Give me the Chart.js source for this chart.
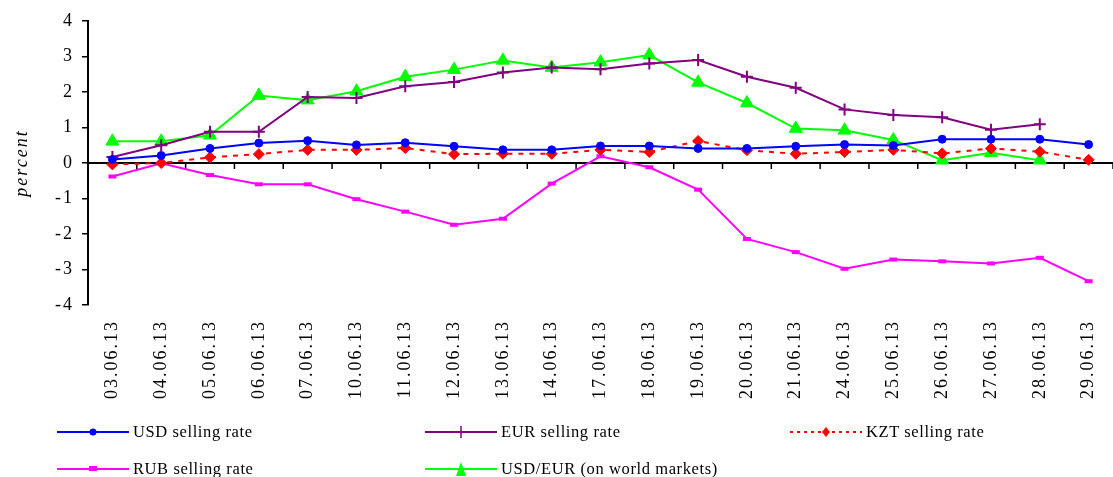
<!DOCTYPE html>
<html>
<head>
<meta charset="utf-8">
<script src="https://cdn.jsdelivr.net/npm/chart.js@4.4.0/dist/chart.umd.min.js"></script>
<style>
    body { margin: 0; background: #fff; }
    #wrap { position: relative; width: 1113px; height: 477px; }
    #chart { position: absolute; left: 0; top: 0; }
    .item {
        position: absolute; display: flex; align-items: center; height: 20px;
        font-family: 'Liberation Serif', serif; font-size: 16.5px; letter-spacing: 0.6px; color: #000;
        white-space: nowrap;
    }
    .item svg { margin-right: 4px; }
</style>
</head>
<body>
<div id="wrap">
    <canvas id="chart" width="1113" height="477" style="width:1113px;height:477px"></canvas>
    <div id="legend"></div>
</div>
<script>
// Chart data
const dates = ['03.06.13', '04.06.13', '05.06.13', '06.06.13', '07.06.13', '10.06.13', '11.06.13',
    '12.06.13', '13.06.13', '14.06.13', '17.06.13', '18.06.13', '19.06.13', '20.06.13', '21.06.13',
    '24.06.13', '25.06.13', '26.06.13', '27.06.13', '28.06.13', '29.06.13'];
const usdRate = [0.10, 0.21, 0.41, 0.56, 0.63, 0.51, 0.57, 0.47, 0.37, 0.37, 0.48,
    0.48, 0.41, 0.41, 0.47, 0.52, 0.49, 0.67, 0.67, 0.67, 0.52];
const eurRate = [0.17, 0.50, 0.88, 0.88, 1.86, 1.83, 2.16, 2.28, 2.55, 2.69, 2.64,
    2.80, 2.90, 2.43, 2.12, 1.51, 1.35, 1.29, 0.94, 1.09, null];
const kztRate = [-0.04, 0.00, 0.16, 0.25, 0.37, 0.37, 0.42, 0.25, 0.26, 0.26, 0.37,
    0.31, 0.62, 0.36, 0.26, 0.31, 0.37, 0.27, 0.41, 0.32, 0.09];
const rubRate = [-0.38, -0.01, -0.34, -0.60, -0.60, -1.02, -1.37, -1.74, -1.57, -0.58, 0.19,
    -0.12, -0.75, -2.14, -2.51, -2.98, -2.72, -2.77, -2.83, -2.67, -3.33];
const usdEurWorld = [0.61, 0.61, 0.78, 1.90, 1.77, 2.02, 2.43, 2.63, 2.89, 2.69, 2.84,
    3.04, 2.27, 1.69, 0.97, 0.92, 0.65, 0.08, 0.29, 0.08, null];
const yTicks = [-4, -3, -2, -1, 0, 1, 2, 3, 4];

const FONT = 'Liberation Serif';

function series(label, data, color, pointStyle, radius, extra) {
    return Object.assign({
        label: label,
        data: data,
        borderColor: color,
        backgroundColor: color,
        pointBackgroundColor: color,
        pointBorderColor: color,
        borderWidth: 2,
        pointStyle: pointStyle,
        pointRadius: radius,
        pointBorderWidth: 1,
        tension: 0
    }, extra || {});
}

const datasets = [
    series('USD selling rate', usdRate, '#0000FF', 'circle', 4),
    series('EUR selling rate', eurRate, '#800080', 'cross', 6, { pointBorderWidth: 2 }),
    series('KZT selling rate', kztRate, '#FF0000', 'rectRot', 5.5, { borderDash: [5, 6] }),
    series('RUB selling rate', rubRate, '#FF00FF', 'line', 4, { pointBorderWidth: 4 }),
    series('USD/EUR (on world markets)', usdEurWorld, '#00FF00', 'triangle', 7.5)
];

// zero line with small ticks between the dates, plus the spaced-out lettering
const zeroAxis = {
    id: 'zeroAxis',
    beforeDraw(chart) {
        chart.ctx.letterSpacing = '2px';
    },
    beforeDatasetsDraw(chart) {
        const { ctx, chartArea, scales: { x, y } } = chart;
        const y0 = y.getPixelForValue(0);
        const half = (x.getPixelForValue(1) - x.getPixelForValue(0)) / 2;
        ctx.save();
        ctx.strokeStyle = '#000';
        ctx.lineWidth = 2;
        ctx.beginPath();
        ctx.moveTo(chartArea.left, y0);
        ctx.lineTo(chartArea.right, y0);
        ctx.stroke();
        ctx.lineWidth = 1.5;
        ctx.beginPath();
        for (let i = 1; i <= dates.length; i++) {
            const px = x.getPixelForValue(i) - half;
            ctx.moveTo(px, y0);
            ctx.lineTo(px, y0 + 6);
        }
        ctx.stroke();
        ctx.restore();
    }
};

new Chart(document.getElementById('chart'), {
    type: 'line',
    data: { labels: dates, datasets: datasets },
    options: {
        responsive: false,
        animation: false,
        layout: { autoPadding: false, padding: { top: 21, left: 0, right: 0, bottom: 0 } },
        plugins: {
            legend: { display: false },
            tooltip: { enabled: false }
        },
        scales: {
            x: {
                offset: true,
                grid: { display: false, drawTicks: false },
                border: { display: false },
                ticks: {
                    autoSkip: false,
                    minRotation: 90,
                    maxRotation: 90,
                    padding: 15,
                    color: '#000',
                    font: { family: FONT, size: 18 }
                },
                afterFit(s) {
                    s.height = 172;
                    s.paddingLeft = 0;
                    s.paddingRight = 0;
                }
            },
            y: {
                min: -4,
                max: 4,
                afterBuildTicks(s) { s.ticks = yTicks.map(v => ({ value: v })); },
                grid: { drawOnChartArea: false, drawTicks: true, tickLength: 6, color: '#000', lineWidth: 1.5 },
                border: { display: true, color: '#000', width: 2 },
                ticks: {
                    padding: 8,
                    color: '#000',
                    font: { family: FONT, size: 18 }
                },
                title: {
                    display: true,
                    text: 'percent',
                    color: '#000',
                    padding: { top: 11, bottom: 0 },
                    font: { family: FONT, size: 18, style: 'italic' }
                },
                afterFit(s) { s.width = 88; }
            }
        }
    },
    plugins: [zeroAxis]
});

// HTML legend laid out in three columns like the original
function sample(ds) {
    const c = ds.borderColor;
    const dash = ds.borderDash ? ' stroke-dasharray="3 4"' : '';
    let m = '';
    if (ds.pointStyle === 'circle') m = `<circle cx="36" cy="10" r="3.5" fill="${c}"/>`;
    if (ds.pointStyle === 'cross') m = `<path d="M36 4V16M30 10H42" stroke="${c}" stroke-width="1.5"/>`;
    if (ds.pointStyle === 'rectRot') m = `<path d="M36 5L40 10L36 15L32 10Z" fill="${c}"/>`;
    if (ds.pointStyle === 'line') m = `<rect x="32" y="7" width="8" height="5" fill="${c}"/>`;
    if (ds.pointStyle === 'triangle') m = `<path d="M36 3L41 17H31Z" fill="${c}"/>`;
    return `<svg width="72" height="20"><line x1="0" y1="10" x2="72" y2="10" stroke="${c}" stroke-width="2"${dash}/>${m}</svg>`;
}

const legendCols = [57, 425, 790];
const legendRows = [422, 459];
const legend = document.getElementById('legend');
datasets.forEach((ds, i) => {
    const item = document.createElement('div');
    item.className = 'item';
    item.style.left = legendCols[i % 3] + 'px';
    item.style.top = legendRows[Math.floor(i / 3)] + 'px';
    item.innerHTML = sample(ds) + '<span>' + ds.label + '</span>';
    legend.appendChild(item);
});
</script>
</body>
</html>
